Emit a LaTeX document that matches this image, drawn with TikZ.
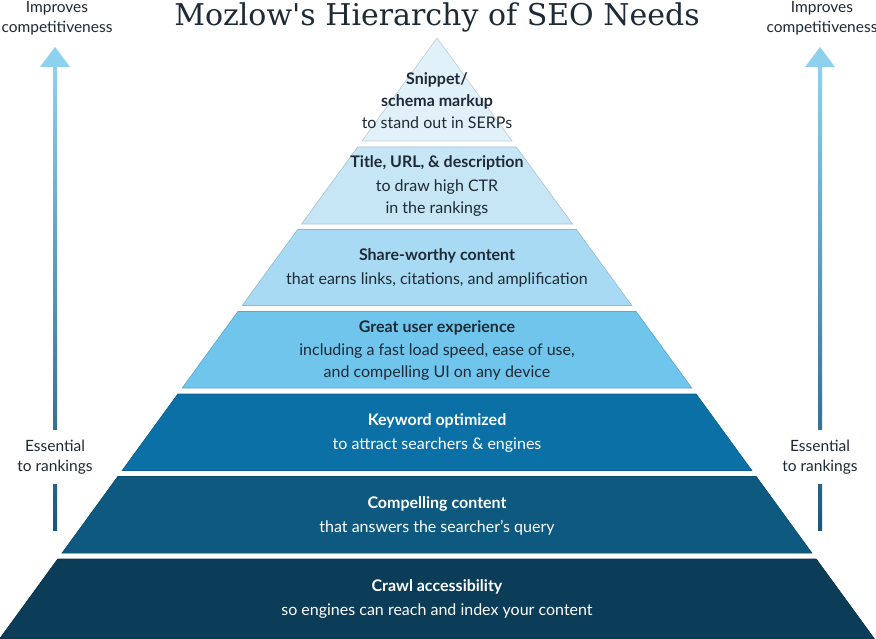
\documentclass[tikz,border=0pt]{standalone}
\usepackage{fontspec}
\setmainfont{Lato}
\newfontfamily\titlefont{DejaVu Serif}
\usepackage{xcolor}
\usetikzlibrary{positioning}

\definecolor{layerA}{HTML}{E1F1F9}
\definecolor{layerB}{HTML}{C6E6F6}
\definecolor{layerC}{HTML}{A8DBF3}
\definecolor{layerD}{HTML}{6FC5EC}
\definecolor{layerE}{HTML}{0B70A5}
\definecolor{layerF}{HTML}{0E5980}
\definecolor{layerG}{HTML}{0B3C58}
\definecolor{inkDark}{HTML}{1E2A35}
\definecolor{arrowTop}{HTML}{8DD1EF}
\definecolor{arrowBot}{HTML}{1B577B}

\begin{document}
\begin{tikzpicture}[x=1pt,y=-1pt]

\tikzset
  {
    layerText/.style={align=center, font=\fontsize{16}{22}\selectfont, inkDark},
    layerTextW/.style={layerText, white},
    sideText/.style={align=center, font=\fontsize{15.5}{20}\selectfont, inkDark, fill=white, inner sep=2pt}
  }

\useasboundingbox (0,0) rectangle (876,639);

% layers: top y / bottom y / colour
\foreach \t/\b/\c in {38/141/layerA, 147/224/layerB, 229.5/305.5/layerC, 311.5/388/layerD, 394/470.5/layerE, 476.5/553/layerF, 559/639/layerG}
{
\filldraw[fill=\c, draw=\c!85!black, line width=0.6pt]
  ({437-0.728*(\t-38)},\t) -- ({437+0.728*(\t-38)},\t) -- ({437+0.728*(\b-38)},\b) -- ({437-0.728*(\b-38)},\b) -- cycle;
}

% texts
\node[layerText] (snippet) at (437,101) {\textbf{Snippet/}\\\textbf{schema markup}\\to stand out in SERPs};
\node[layerText] (title) at (437,186) {\textbf{Title, URL, \& description}\\[2pt]to draw high CTR\\in the rankings};
\node[layerText] (share) at (437,268) {\textbf{Share-worthy content}\\[2pt]that earns links, citations, and amplification};
\node[layerText] (ux) at (437,351) {\textbf{Great user experience}\\[1pt]including a fast load speed, ease of use,\\and compelling UI on any device};
\node[layerTextW] (keyword) at (437,433) {\textbf{Keyword optimized}\\[2pt]to attract searchers \& engines};
\node[layerTextW] (content) at (437,516) {\textbf{Compelling content}\\[2pt]that answers the searcher's query};
\node[layerTextW] (crawl) at (437,599) {\textbf{Crawl accessibility}\\[2pt]so engines can reach and index your content};

\node[inkDark, font=\titlefont\fontsize{30}{30}\selectfont] (heading) at (437,17) {Mozlow's Hierarchy of SEO Needs};

% side arrows
\foreach \s/\x in {left/55, right/820}
{
\coordinate (\s tip) at (\x,47);
\coordinate (\s base) at (\x,530);
\shade[top color=arrowTop, bottom color=arrowBot] (\x-2,66) rectangle (\x+2,530);
\fill[arrowTop] (\s tip) -- (\x+15,67) -- (\x-15,67) -- cycle;
\node[sideText] (\s improves) at (\x+2,18) {Improves\\competitiveness};
\node[sideText, inner ysep=10pt] (\s essential) at (\x,457) {Essential\\to rankings};
}

\end{tikzpicture}
\end{document}
